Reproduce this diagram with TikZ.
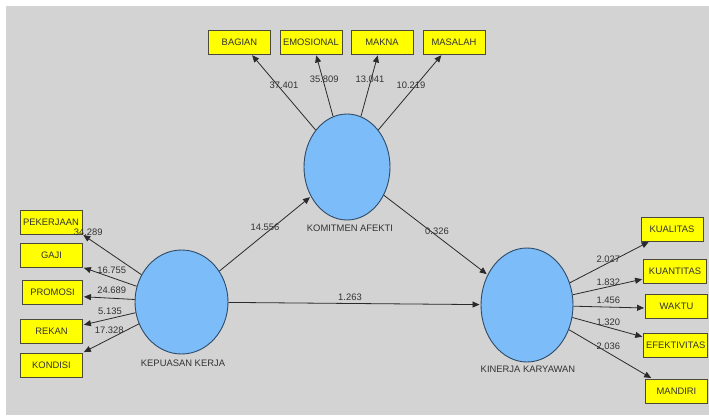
\documentclass[tikz,border=0pt]{standalone}
\usepackage{fontspec}
\setmainfont{Liberation Sans}
\usetikzlibrary{shapes.geometric,arrows.meta}
\definecolor{bg}{HTML}{D3D3D3}
\definecolor{lvfill}{HTML}{7CBCF9}
\definecolor{lvborder}{HTML}{2E4A66}
\definecolor{yel}{HTML}{FFFF00}
\definecolor{indborder}{HTML}{4A4A3A}
\definecolor{txt}{HTML}{333333}
\definecolor{lin}{HTML}{2A2A2A}
\begin{document}
\begin{tikzpicture}[x=1pt,y=-1pt,
  every node/.style={font=\fontsize{9.4}{10}\selectfont, text=txt},
  lv/.style={ellipse, draw=lvborder, fill=lvfill, line width=0.9pt, inner sep=0},
  indbox/.style={rectangle, draw=indborder, fill=yel, line width=0.9pt, minimum width=62pt, minimum height=24pt, inner sep=0},
  arr/.style={draw=lin, line width=0.8pt, shorten >=1pt, -{Triangle[length=7pt,width=6pt]}},
  num/.style={inner sep=0}]
\fill[bg] (6,6) rectangle (709,415);
\useasboundingbox (0,0) rectangle (709,415);

% latent variables
\node[lv, minimum width=86pt, minimum height=106pt] (kom) at (347,167) {};
\node[lv, minimum width=93pt, minimum height=104pt] (kep) at (181.5,302) {};
\node[lv, minimum width=92pt, minimum height=114pt] (kin) at (527,305) {};

\node (komL) at (350,228) {KOMITMEN AFEKTI};
\node (kepL) at (183,363) {KEPUASAN KERJA};
\node (kinL) at (528,369) {KINERJA KARYAWAN};

% indicators top
\node[indbox] (bag) at (239.5,42) {BAGIAN};
\node[indbox] (emo) at (311,42) {EMOSIONAL};
\node[indbox] (mak) at (382,42) {MAKNA};
\node[indbox] (mas) at (454,42) {MASALAH};
% indicators left
\node[indbox] (pek) at (51,222) {PEKERJAAN};
\node[indbox] (gaj) at (51.5,255) {GAJI};
\node[indbox, minimum width=60pt] (pro) at (52.5,292) {PROMOSI};
\node[indbox] (rek) at (51.5,331) {REKAN};
\node[indbox] (kon) at (51.5,365) {KONDISI};
% indicators right
\node[indbox] (kua) at (672,229) {KUALITAS};
\node[indbox, minimum width=63pt] (kun) at (675,271) {KUANTITAS};
\node[indbox] (wak) at (676.5,306) {WAKTU};
\node[indbox, minimum width=64pt] (efe) at (675.7,345) {EFEKTIVITAS};
\node[indbox] (man) at (676.5,391) {MANDIRI};

% outer arrows
\draw[arr] (kom) -- ([xshift=12pt]bag.south);
\draw[arr] (kom) -- ([xshift=5pt]emo.south);
\draw[arr] (kom) -- ([xshift=-4pt]mak.south);
\draw[arr] (kom) -- ([xshift=-12pt]mas.south);

\draw[arr] (kep) -- (pek.south east);
\draw[arr] (kep) -- (gaj.south east);
\draw[arr] (kep) -- ([yshift=-4.7pt]pro.east);
\draw[arr] (kep) -- ([yshift=6pt]rek.east);
\draw[arr] (kep) -- (kon.north east);

\draw[arr] (kin) -- ([xshift=9pt]kua.south west);
\draw[arr] (kin) -- ([yshift=-8pt]kun.west);
\draw[arr] (kin) -- ([yshift=-2pt]wak.west);
\draw[arr] (kin) -- ([yshift=8pt]efe.west);
\draw[arr] (kin) -- ([xshift=7pt]man.north west);

% inner arrows
\draw[arr] (kep) -- (kom);
\draw[arr] (kom) -- (kin);
\draw[arr] (kep) -- (kin);

% path coefficients
\node[num] (c1) at (265,227) {14.556};
\node[num] (c2) at (437,231) {0.326};
\node[num] (c3) at (350,297) {1.263};

% loadings top
\node[num] (t1) at (284,85) {37.401};
\node[num] (t2) at (324.3,79.3) {35.809};
\node[num] (t3) at (370,79.3) {13.041};
\node[num] (t4) at (411,85) {10.219};
% loadings left
\node[num] (l1) at (88.3,232.3) {34.289};
\node[num] (l2) at (111.7,270.7) {16.755};
\node[num] (l3) at (111.7,290) {24.689};
\node[num] (l4) at (110,311) {5.135};
\node[num] (l5) at (109.3,330.7) {17.328};
% loadings right
\node[num] (r1) at (608.3,259.3) {2.027};
\node[num] (r2) at (608.3,282.7) {1.832};
\node[num] (r3) at (608.3,300.7) {1.456};
\node[num] (r4) at (608.3,322.7) {1.320};
\node[num] (r5) at (608.3,346.7) {2.036};
\end{tikzpicture}
\end{document}
